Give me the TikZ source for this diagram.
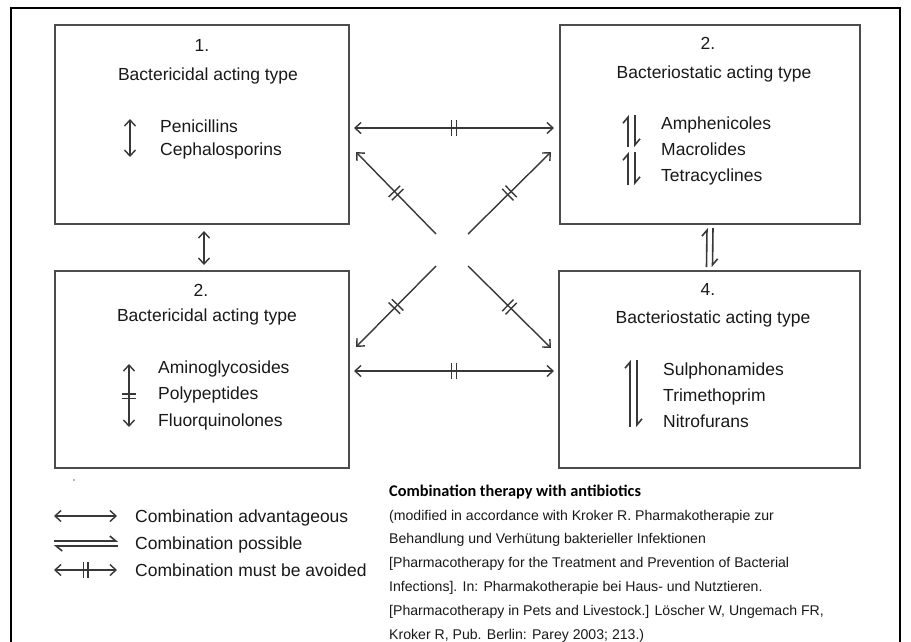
\documentclass[tikz,border=0pt]{standalone}
\usepackage{fontspec}
\setmainfont{Liberation Sans}
\newfontfamily\headfont{Carlito}
\usetikzlibrary{arrows.meta,decorations.markings,calc}
\definecolor{linegray}{gray}{0.22}
\definecolor{boxgray}{gray}{0.3}
\definecolor{txtgray}{gray}{0.1}
\tikzset{
  box/.style={draw=boxgray, line width=1.2pt, inner sep=0pt, outer sep=0pt, anchor=north west},
  ln/.style={draw=linegray, line width=1.4pt},
  adv/.style={ln, {Straight Barb[length=6pt,width=11pt]}-{Straight Barb[length=6pt,width=11pt]}},
  oneway/.style={ln, -{Straight Barb[length=6pt,width=11pt]}},
  ticks/.style={postaction={decorate}, decoration={markings, mark=at position 0.5 with {\draw[-, linegray, line width=1.4pt] (-2.3pt,-8pt) -- (-2.3pt,8pt) (2.3pt,-8pt) -- (2.3pt,8pt);}}},
  hp/.style={ln, line width=1.6pt, -{Straight Barb[left,length=6pt,width=10pt]}},
  tx/.style={text=txtgray, inner sep=0pt, font=\fontsize{17.5}{20}\selectfont},
  ct/.style={text=txtgray, inner sep=0pt, anchor=base west, font=\fontsize{14.1}{17}\selectfont},
}
\begin{document}
\begin{tikzpicture}[x=1pt,y=-1pt]
\useasboundingbox (0,0) rectangle (911,641);
\fill[white] (0,0) rectangle (911,641);
% outer frame
\draw[black, line width=2.5pt] (11,645) -- (11,8) -- (900,8) -- (900,645);

% boxes
\node[box, minimum width=294pt, minimum height=199pt] (b1) at (55,25) {};
\node[box, minimum width=300pt, minimum height=199pt] (b2) at (560,25) {};
\node[box, minimum width=294pt, minimum height=197pt] (b3) at (55,271) {};
\node[box, minimum width=301pt, minimum height=197pt] (b4) at (559,271) {};

% box 1
\node[tx, anchor=base] (n1) at (202,51) {1.};
\node[tx, anchor=base] (h1) at (208,80) {Bactericidal acting type};
\node[tx, anchor=base west] (p1) at (160,132) {Penicillins};
\node[tx, anchor=base west] (p2) at (160,155) {Cephalosporins};
\coordinate (a1t) at (130,119);
\coordinate (a1b) at (130,157);
\draw[adv] (a1t) -- (a1b);

% box 2
\node[tx, anchor=base] (n2) at (708,49) {2.};
\node[tx, anchor=base] (h2) at (714,78) {Bacteriostatic acting type};
\node[tx, anchor=base west] (q1) at (661,129) {Amphenicoles};
\node[tx, anchor=base west] (q2) at (661,155) {Macrolides};
\node[tx, anchor=base west] (q3) at (661,181) {Tetracyclines};
\coordinate (h2a) at (628,147);
\coordinate (h2b) at (628,115);
\coordinate (h2c) at (635,115);
\coordinate (h2d) at (635,147);
\draw[hp] (h2a) -- (h2b);
\draw[hp] (h2c) -- (h2d);
\coordinate (h2e) at (628,185);
\coordinate (h2f) at (628,152);
\coordinate (h2g) at (635,152);
\coordinate (h2h) at (635,185);
\draw[hp] (h2e) -- (h2f);
\draw[hp] (h2g) -- (h2h);

% box 3
\node[tx, anchor=base] (n3) at (201,296) {2.};
\node[tx, anchor=base] (h3) at (207,321) {Bactericidal acting type};
\node[tx, anchor=base west] (r1) at (158,373) {Aminoglycosides};
\node[tx, anchor=base west] (r2) at (158,399) {Polypeptides};
\node[tx, anchor=base west] (r3) at (158,426) {Fluorquinolones};
\coordinate (a3t) at (129,364);
\coordinate (a3b) at (129,427);
\draw[adv] (a3t) -- (a3b);
\draw[linegray, line width=1.4pt] (122,394) -- (136,394) (122,398.5) -- (136,398.5);

% box 4
\node[tx, anchor=base] (n4) at (708,295) {4.};
\node[tx, anchor=base] (h4) at (713,323) {Bacteriostatic acting type};
\node[tx, anchor=base west] (s1) at (663,375) {Sulphonamides};
\node[tx, anchor=base west] (s2) at (663,401) {Trimethoprim};
\node[tx, anchor=base west] (s3) at (663,427) {Nitrofurans};
\coordinate (h4a) at (630,427);
\coordinate (h4b) at (630,360);
\coordinate (h4c) at (637,360);
\coordinate (h4d) at (637,427);
\draw[hp] (h4a) -- (h4b);
\draw[hp] (h4c) -- (h4d);

% connectors between boxes
\draw[adv, ticks] ([xshift=5pt,yshift=-3.5pt]b1.east) -- ([xshift=-6pt,yshift=-3.5pt]b2.west);
\draw[adv, ticks] ([xshift=5pt,yshift=-1.5pt]b3.east) -- ([xshift=-5pt,yshift=-1.5pt]b4.west);
\draw[adv] ([xshift=2pt,yshift=-7pt]b1.south) -- ([xshift=2pt,yshift=6pt]b3.north);
\draw[hp] ([xshift=-3pt,yshift=4pt]b4.north) -- ([xshift=-3pt,yshift=-4pt]b2.south);
\draw[hp] ([xshift=3pt,yshift=-4pt]b2.south) -- ([xshift=3pt,yshift=4pt]b4.north);

% diagonals
\coordinate (xul) at (436,234);
\coordinate (xur) at (468,234);
\coordinate (xll) at (436,266);
\coordinate (xlr) at (468,266);
\draw[oneway, ticks] (xul) -- ([xshift=7pt,yshift=-27.5pt]b1.east);
\draw[oneway, ticks] (xur) -- ([xshift=-9pt,yshift=-27.5pt]b2.west);
\draw[oneway, ticks] (xll) -- ([xshift=7pt,yshift=22.5pt]b3.east);
\draw[oneway, ticks] (xlr) -- ([xshift=-8pt,yshift=21.5pt]b4.west);

% small dot
\fill[black!55] (74,480) circle (0.8pt);

% legend
\coordinate (l1a) at (54,516);
\coordinate (l1b) at (117,516);
\draw[adv] (l1a) -- (l1b);
\node[tx, anchor=base west] (lt1) at (135,522) {Combination advantageous};
\coordinate (l2a) at (54,541);
\coordinate (l2b) at (118,541);
\coordinate (l2c) at (118,546);
\coordinate (l2d) at (54,546);
\draw[hp] (l2a) -- (l2b);
\draw[hp] (l2c) -- (l2d);
\node[tx, anchor=base west] (lt2) at (135,549) {Combination possible};
\coordinate (l3a) at (54,570);
\coordinate (l3b) at (117,570);
\draw[adv, ticks] (l3a) -- (l3b);
\node[tx, anchor=base west] (lt3) at (135,576) {Combination must be avoided};

% citation
\node[text=black, inner sep=0pt, anchor=base west, font=\headfont\bfseries\fontsize{16.3}{19}\selectfont] (c0) at (389,496) {Combination therapy with antibiotics};
\node[ct] (c1) at (389,520) {(modified in accordance with Kroker R. Pharmakotherapie zur};
\node[ct] (c2) at (389,543) {Behandlung und Verhütung bakterieller Infektionen};
\node[ct] (c3) at (389,567) {[Pharmacotherapy for the Treatment and Prevention of Bacterial};
\node[ct] (c4) at (389,591) {Infections]. In: Pharmakotherapie bei Haus- und Nutztieren.};
\node[ct] (c5) at (389,615) {[Pharmacotherapy in Pets and Livestock.] Löscher W, Ungemach FR,};
\node[ct] (c6) at (389,639) {Kroker R, Pub. Berlin: Parey 2003; 213.)};
\end{tikzpicture}
\end{document}
